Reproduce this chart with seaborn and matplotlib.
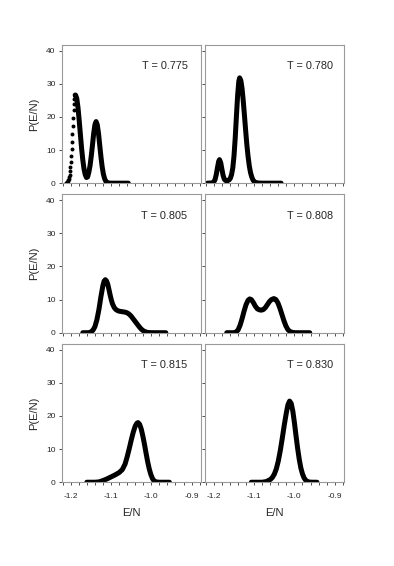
"""Energy histograms P(E/N) at six temperatures, 3x2 panel grid."""
import matplotlib
matplotlib.use("Agg")
import matplotlib.pyplot as plt
import pandas as pd
import seaborn as sns
from matplotlib.ticker import MultipleLocator

temps = ["0.775", "0.780", "0.805", "0.808", "0.815", "0.830"]
x_ticks = [-1.2, -1.1, -1.0, -0.9]
y_ticks = [0, 10, 20, 30, 40]

# T = 0.775 -- the steep left edge shows up as separate points
t775_edge_x = [-1.212, -1.211, -1.210, -1.209, -1.208, -1.207, -1.206, -1.205,
               -1.204, -1.203, -1.202, -1.201, -1.200, -1.199, -1.198, -1.197,
               -1.196, -1.195, -1.194, -1.193, -1.192, -1.191, -1.190, -1.189]
t775_edge_y = [0.0, 0.05, 0.1, 0.2, 0.4, 0.6, 0.9, 1.3, 1.9, 2.6, 3.6, 4.8,
               6.4, 8.2, 10.2, 12.5, 14.9, 17.4, 19.8, 22.0, 23.9, 25.4, 26.3, 26.6]
t775_x = [-1.189, -1.188, -1.185, -1.182, -1.179, -1.176, -1.173, -1.170, -1.167,
          -1.164, -1.161, -1.158, -1.155, -1.152, -1.149, -1.146, -1.143, -1.140,
          -1.137, -1.134, -1.131, -1.128, -1.125, -1.122, -1.119, -1.116, -1.113,
          -1.110, -1.106, -1.100, -1.080, -1.057]
t775_y = [26.6, 26.6, 25.6, 22.9, 19.0, 14.7, 10.5, 7.0, 4.3, 2.6, 1.7, 1.9, 3.3,
          5.3, 8.2, 11.5, 15.0, 17.6, 18.6, 17.6, 15.0, 11.5, 8.0, 5.0, 2.8, 1.4,
          0.6, 0.25, 0.05, 0.0, 0.0, 0.0]

# T = 0.780
t780_x = [-1.216, -1.206, -1.203, -1.200, -1.197, -1.194, -1.191, -1.188, -1.186,
          -1.183, -1.180, -1.177, -1.174, -1.171, -1.168, -1.165, -1.162, -1.159,
          -1.156, -1.153, -1.150, -1.147, -1.144, -1.141, -1.138, -1.136, -1.133,
          -1.130, -1.127, -1.124, -1.121, -1.118, -1.115, -1.112, -1.109, -1.106,
          -1.103, -1.100, -1.096, -1.090, -1.080, -1.033]
t780_y = [0.0, 0.05, 0.15, 0.4, 1.1, 2.6, 4.7, 6.6, 7.1, 6.2, 4.2, 2.3, 1.2, 0.8,
          0.7, 0.8, 1.0, 1.5, 2.6, 4.6, 8.2, 13.6, 20.2, 26.5, 30.8, 31.8, 31.0,
          28.6, 24.8, 20.4, 15.8, 11.5, 8.0, 5.2, 3.2, 1.9, 1.0, 0.5, 0.2, 0.05,
          0.0, 0.0]

# T = 0.805
t805_x = [-1.170, -1.153, -1.150, -1.145, -1.140, -1.135, -1.130, -1.125, -1.120,
          -1.117, -1.114, -1.111, -1.108, -1.105, -1.102, -1.099, -1.096, -1.092,
          -1.088, -1.084, -1.080, -1.075, -1.070, -1.065, -1.060, -1.055, -1.050,
          -1.045, -1.040, -1.035, -1.030, -1.025, -1.020, -1.015, -1.010, -1.003,
          -0.995, -0.964]
t805_y = [0.0, 0.0, 0.25, 0.7, 1.8, 3.9, 7.0, 10.9, 14.3, 15.6, 16.0, 15.6, 14.6,
          13.0, 11.3, 9.8, 8.6, 7.6, 7.0, 6.7, 6.5, 6.4, 6.3, 6.2, 6.0, 5.6, 5.0,
          4.2, 3.4, 2.6, 1.8, 1.1, 0.6, 0.3, 0.1, 0.02, 0.0, 0.0]

# T = 0.808
t808_x = [-1.168, -1.150, -1.145, -1.140, -1.135, -1.130, -1.125, -1.120, -1.115,
          -1.111, -1.107, -1.102, -1.097, -1.092, -1.087, -1.082, -1.077, -1.072,
          -1.067, -1.062, -1.057, -1.051, -1.046, -1.041, -1.036, -1.031, -1.026,
          -1.021, -1.016, -1.011, -1.005, -0.998, -0.962]
t808_y = [0.0, 0.0, 0.2, 0.8, 2.2, 4.2, 6.5, 8.5, 9.8, 10.2, 10.0, 9.1, 8.0, 7.2,
          6.9, 6.8, 7.0, 7.6, 8.5, 9.4, 10.0, 10.3, 10.0, 9.0, 7.4, 5.5, 3.6, 2.0,
          0.9, 0.35, 0.1, 0.0, 0.0]

# T = 0.815
t815_x = [-1.160, -1.140, -1.130, -1.120, -1.110, -1.100, -1.090, -1.080, -1.072,
          -1.065, -1.060, -1.055, -1.050, -1.045, -1.040, -1.036, -1.033, -1.029,
          -1.025, -1.021, -1.017, -1.013, -1.009, -1.005, -1.001, -0.997, -0.993,
          -0.988, -0.980, -0.955]
t815_y = [0.0, 0.0, 0.1, 0.5, 1.0, 1.6, 2.2, 2.9, 3.8, 5.5, 7.6, 10.0, 12.6, 15.0,
          16.9, 17.8, 18.0, 17.5, 16.1, 14.0, 11.5, 8.8, 6.2, 4.0, 2.3, 1.1, 0.4,
          0.1, 0.0, 0.0]

# T = 0.830
t830_x = [-1.107, -1.080, -1.070, -1.060, -1.055, -1.050, -1.045, -1.040, -1.035,
          -1.030, -1.025, -1.020, -1.016, -1.012, -1.008, -1.004, -1.000, -0.996,
          -0.992, -0.988, -0.984, -0.980, -0.976, -0.972, -0.968, -0.963, -0.955,
          -0.944]
t830_y = [0.0, 0.0, 0.2, 0.8, 1.4, 2.4, 4.0, 6.4, 9.6, 13.4, 17.4, 21.0, 23.4, 24.5,
          23.8, 21.5, 18.0, 14.0, 10.2, 6.9, 4.3, 2.5, 1.3, 0.6, 0.25, 0.05, 0.0,
          0.0]

curves = [(t775_x, t775_y), (t780_x, t780_y), (t805_x, t805_y),
          (t808_x, t808_y), (t815_x, t815_y), (t830_x, t830_y)]

sns.set_theme(style="ticks")
plt.rcParams["font.family"] = ["Liberation Sans", "DejaVu Sans"]
plt.rcParams["axes.unicode_minus"] = False

fig, axes = plt.subplots(3, 2, figsize=(3.94, 5.66), dpi=100, sharex=True, sharey=True)
fig.subplots_adjust(left=0.157, right=0.873, top=0.921, bottom=0.148,
                    wspace=0.03, hspace=0.08)

frame = "#9a9a9a"
for i, ax in enumerate(axes.flat):
    cx, cy = curves[i]
    df = pd.DataFrame({"E": cx, "P": cy})
    sns.lineplot(data=df, x="E", y="P", ax=ax, color="black", linewidth=3.6,
                 sort=False, estimator=None, solid_capstyle="round",
                 solid_joinstyle="round")
    if i == 0:
        edge = pd.DataFrame({"E": t775_edge_x, "P": t775_edge_y})
        sns.scatterplot(data=edge, x="E", y="P", ax=ax, color="black", s=8,
                        linewidth=0)

    ax.set_xlim(-1.222, -0.877)
    ax.set_ylim(0, 41.8)
    ax.set_xticks(x_ticks)
    ax.set_yticks(y_ticks)
    ax.xaxis.set_minor_locator(MultipleLocator(0.02))
    ax.tick_params(which="both", direction="out", width=0.6, color="#333333",
                   labelsize=6, pad=2)
    ax.tick_params(which="major", length=2.5)
    ax.tick_params(axis="x", which="minor", length=2)
    ax.tick_params(axis="x", pad=5)
    for sp in ax.spines.values():
        sp.set_visible(True)
        sp.set_color(frame)
        sp.set_linewidth(0.8)

    ax.text(0.905 if i % 2 == 0 else 0.922, 0.846, f"T = {temps[i]}",
            transform=ax.transAxes, ha="right", va="center", fontsize=7.8)

    ax.set_xlabel("E/N" if i >= 4 else "", fontsize=8, labelpad=6)
    ax.set_ylabel("P(E/N)" if i % 2 == 0 else "", fontsize=8, labelpad=5)

plt.savefig("out.png", dpi=100)
